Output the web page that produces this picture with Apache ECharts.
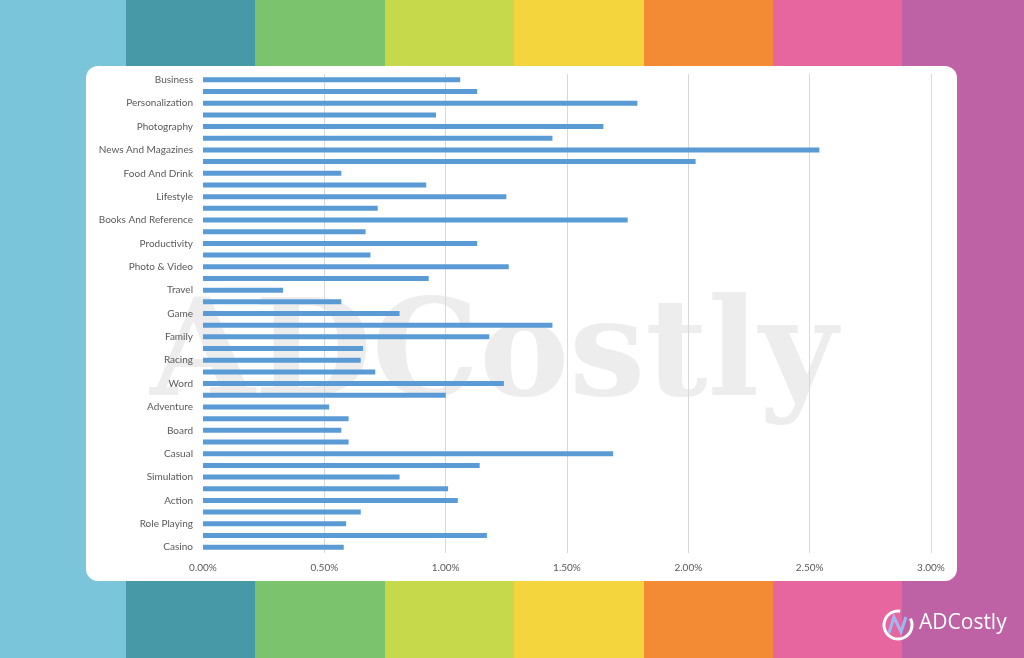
<!DOCTYPE html>
<html>
<head>
<meta charset="utf-8">
<script src="https://cdn.jsdelivr.net/npm/echarts@6/dist/echarts.min.js"></script>
<style>
html,body{margin:0;padding:0;width:1024px;height:658px;overflow:hidden;background:#fff;}
#chart{width:1024px;height:658px;}
</style>
</head>
<body>
<div id="chart"></div>
<script>
// Categories, top to bottom (only every other label is shown in the reference)
const categories = [
  'Business','Communication','Personalization','Music And Audio','Photography','Social',
  'News And Magazines','Weather','Food And Drink','Shopping','Lifestyle','Health And Fitness',
  'Books And Reference','Education','Productivity','Tools','Photo & Video','Entertainment',
  'Travel','Sports','Game','Puzzle','Family','Educational','Racing','Trivia','Word','Card',
  'Adventure','Music','Board','Arcade','Casual','Strategy','Simulation','Sports Games',
  'Action','Kids','Role Playing','Medical','Casino'
];
// Values in percent
const values = [
  1.06,1.13,1.79,0.96,1.65,1.44,2.54,2.03,0.57,0.92,1.25,0.72,1.75,0.67,1.13,0.69,1.26,0.93,
  0.33,0.57,0.81,1.44,1.18,0.66,0.65,0.71,1.24,1.00,0.52,0.60,0.57,0.60,1.69,1.14,0.81,1.01,
  1.05,0.65,0.59,1.17,0.58
];
const xTicks = [0, 0.5, 1.0, 1.5, 2.0, 2.5, 3.0];
const stripeColors = ['#7AC5D9','#4799A8','#7BC36C','#C6D94B','#F4D53E','#F28B33','#E8669F','#BE62A5'];
const stripeEdges = [0,126,255,385,514,644,773,902,1024];

const chart = echarts.init(document.getElementById('chart'), null, {renderer:'canvas'});

const graphics = [];
stripeColors.forEach((c, i) => {
  graphics.push({type:'rect', z:-30, silent:true,
    shape:{x: stripeEdges[i], y:0, width:stripeEdges[i+1]-stripeEdges[i]+1, height:658}, style:{fill:c}});
});
graphics.push({type:'rect', z:-20, silent:true,
  shape:{x:86, y:66, width:871, height:515, r:12}, style:{fill:'#ffffff'}});
graphics.push({type:'text', z:-10, silent:true, left:150, top:292,
  style:{text:'ADCostly', fill:'rgba(200,200,200,0.32)', font:'bold 135px "DejaVu Serif"'}});
// logo
graphics.push({type:'arc', z:-10, silent:true,
  shape:{cx:898, cy:625, r:14, startAngle:-Math.PI*0.15, endAngle:Math.PI*1.55},
  style:{stroke:'#ffffff', lineWidth:3, fill:null}});
graphics.push({type:'polyline', z:-10, silent:true,
  shape:{points:[[889,633],[894,617],[901,632],[906,617]]},
  style:{stroke:'#9FB8F2', lineWidth:3, fill:null}});
graphics.push({type:'text', z:-10, silent:true, left:919, top:613,
  style:{text:'ADCostly', fill:'#ffffff', font:'21px "Open Sans"'}});

chart.setOption({
  animation:false,
  backgroundColor:'transparent',
  graphic: graphics,
  grid:{left:203, right:93, top:74, height:479, containLabel:false},
  xAxis:{
    type:'value', min:xTicks[0], max:xTicks[xTicks.length-1], interval:0.5,
    axisLine:{show:false}, axisTick:{show:false},
    splitLine:{show:true, showMinLine:false, lineStyle:{color:'#D9D9D9', width:1}},
    axisLabel:{color:'#595959', fontSize:10, fontFamily:'Lato', margin:10,
      formatter: v => v.toFixed(2) + '%'}
  },
  yAxis:{
    type:'category', data:categories, inverse:true,
    axisLine:{show:false}, axisTick:{show:false},
    axisLabel:{color:'#595959', fontSize:10, fontFamily:'Lato', interval:1, margin:10}
  },
  series:[{
    type:'bar', data:values, barWidth:5,
    itemStyle:{color:'#5B9BD5'}
  }]
});
</script>
</body>
</html>
